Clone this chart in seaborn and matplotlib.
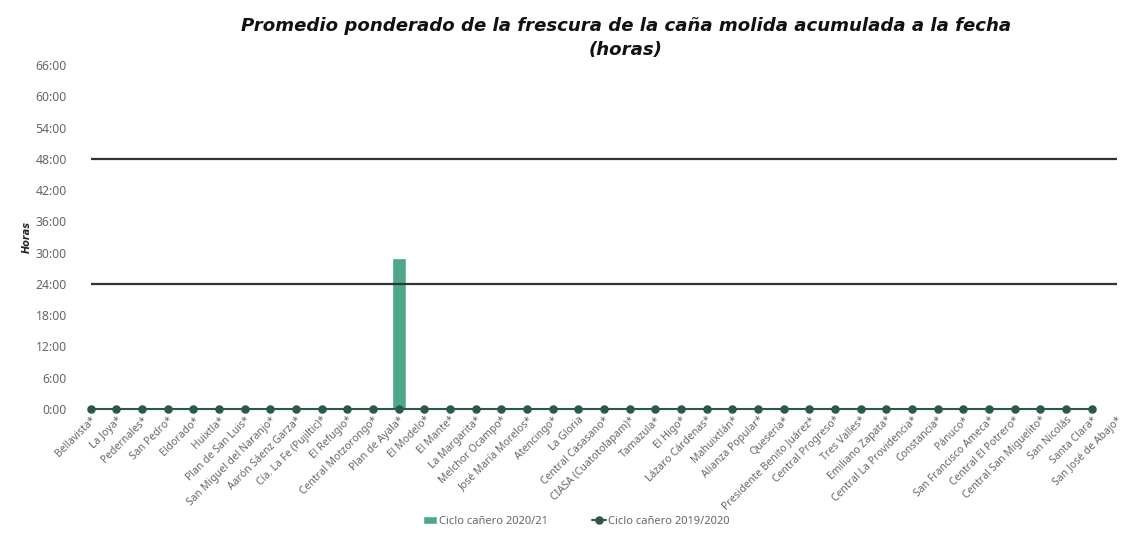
import numpy as np
import pandas as pd
import seaborn as sns
import matplotlib.pyplot as plt

ingenios = ['Bellavista*', 'La Joya*', 'Pedernales*', 'San Pedro*', 'Eldorado*', 'Huixtla*',
            'Plan de San Luis*', 'San Miguel del Naranjo*', 'Aarón Sáenz Garza*',
            'Cía. La Fe (Pujiltic)*', 'El Refugio*', 'Central Motzorongo*', 'Plan de Ayala*',
            'El Modelo*', 'El Mante*', 'La Margarita*', 'Melchor Ocampo*', 'José María Morelos*',
            'Atencingo*', 'La Gloria', 'Central Casasano*', 'CIASA (Cuatotolapam)*', 'Tamazula*',
            'El Higo*', 'Lázaro Cárdenas*', 'Mahuixtlán*', 'Alianza Popular*', 'Quesería*',
            'Presidente Benito Juárez*', 'Central Progreso*', 'Tres Valles*', 'Emiliano Zapata*',
            'Central La Providencia*', 'Constancia*', 'Pánuco*', 'San Francisco Ameca*',
            'Central El Potrero*', 'Central San Miguelito*', 'San Nicolás', 'Santa Clara*',
            'San José de Abajo*']

# horas (decimal) por ingenio
ciclo_2020_21 = [np.nan] * 12 + [28.9] + [np.nan] * 28
ciclo_2019_20 = [0.0] * 40 + [np.nan]

limites = [24, 48]
y_ticks = list(range(0, 67, 6))

df = pd.DataFrame({'ingenio': ingenios, 'c2021': ciclo_2020_21, 'c1920': ciclo_2019_20})

sns.set_style('white')
plt.rcParams['font.family'] = ['Noto Sans', 'DejaVu Sans']

fig, ax = plt.subplots(figsize=(11.3, 5.33), dpi=100)
fig.subplots_adjust(left=0.069, right=1.0, top=0.878, bottom=0.233)

sns.barplot(data=df, x='ingenio', y='c2021', order=ingenios, color='#4ea887',
            width=0.56, saturation=1, ax=ax, label='Ciclo cañero 2020/21')
sns.pointplot(data=df, x='ingenio', y='c1920', order=ingenios, color='#2b5a44',
              markers='o', markersize=5, linewidth=1.5, ax=ax, label='Ciclo cañero 2019/2020')

for lim in limites:
    ax.hlines(lim, 0, len(ingenios) - 1, color='#333333', linewidth=1.6, zorder=1)

for art in ax.lines + ax.collections:
    art.set_clip_on(False)

ax.set_ylim(0, 66)
ax.set_yticks(y_ticks)
ax.set_yticklabels([f'{v}:00' for v in y_ticks], fontsize=8.8, color='#666666')
ax.set_xlim(-0.5, len(ingenios) - 0.5)
ax.tick_params(axis='x', labelsize=7.5, labelcolor='#666666', pad=4, length=0)
ax.tick_params(axis='y', length=0, pad=8)
plt.setp(ax.get_xticklabels(), rotation=45, ha='right', rotation_mode='anchor')
ax.set_xlabel('')
ax.set_ylabel('Horas', fontsize=7, fontweight='bold', fontstyle='italic', labelpad=3,
              family='DejaVu Sans')
sns.despine(ax=ax, left=True, bottom=True)

fig.text(0.554, 0.968, 'Promedio ponderado de la frescura de la caña molida acumulada a la fecha\n(horas)',
         ha='center', va='top', fontsize=13.1, fontweight='bold', fontstyle='italic',
         color='#111111', linespacing=1.4, family='DejaVu Sans')

handles, labels = ax.get_legend_handles_labels()
order = [labels.index('Ciclo cañero 2020/21'), labels.index('Ciclo cañero 2019/2020')]
ax.legend([handles[i] for i in order], [labels[i] for i in order],
          loc='center', bbox_to_anchor=(0.51, 0.022), bbox_transform=fig.transFigure,
          ncol=2, frameon=False, fontsize=8, handlelength=1.2, handletextpad=0.2,
          columnspacing=4, labelcolor='#666666')

fig.savefig('out.png', dpi=100)
